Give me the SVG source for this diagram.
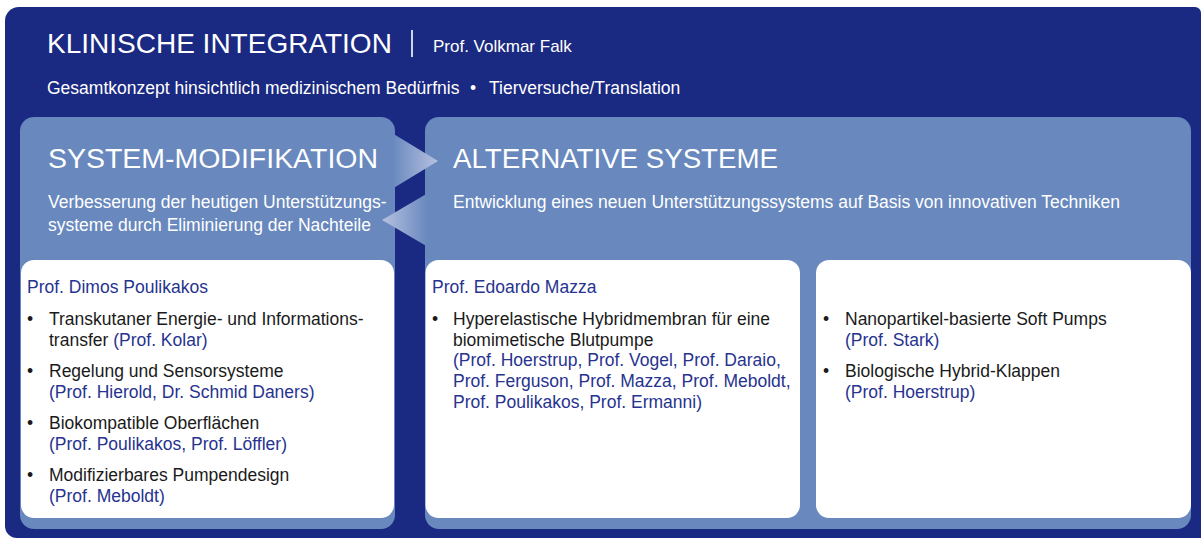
<svg xmlns="http://www.w3.org/2000/svg" width="1201" height="538" viewBox="0 0 1201 538">
  <defs>
    <style>
      text { font-family: "Liberation Sans", Arial, Helvetica, sans-serif; }
      .title { font-size: 28px; fill: #ffffff; }
      .lead { font-size: 17px; fill: #ffffff; }
      .head { font-size: 27px; fill: #ffffff; }
      .sub { font-size: 17.5px; fill: #ffffff; }
      .prof { font-size: 17.5px; fill: #27338f; }
      .item { font-size: 17.5px; fill: #1a1a1a; }
      .who { font-size: 17.5px; fill: #27338f; }
      .panel { fill: #6888be; }
      .card { fill: #ffffff; }
    </style>
    <linearGradient id="gradRight" x1="0" y1="0" x2="1" y2="0">
      <stop offset="0" stop-color="#6888be"/>
      <stop offset="1" stop-color="#b7c1e0"/>
    </linearGradient>
    <linearGradient id="gradLeft" x1="0" y1="0" x2="1" y2="0">
      <stop offset="0" stop-color="#b7c1e0"/>
      <stop offset="1" stop-color="#6888be"/>
    </linearGradient>
  </defs>

  <!-- outer frame -->
  <g id="frame">
    <path d="M19,7 H1195 A6,6 0 0 1 1201,13 V538 H17 A12,12 0 0 1 5,526 V21 A14,14 0 0 1 19,7 Z" fill="#1a2981"/>
    <text class="title" x="47" y="53">KLINISCHE INTEGRATION</text>
    <line x1="412" y1="30" x2="412" y2="57" stroke="#ffffff" stroke-width="1.6"/>
    <text class="lead" x="433" y="52">Prof. Volkmar Falk</text>
    <text class="sub" x="47" y="94">Gesamtkonzept hinsichtlich medizinischem Bedürfnis</text>
    <text class="sub" x="470" y="94">•</text>
    <text class="sub" x="489" y="94">Tierversuche/Translation</text>
  </g>

  <!-- system modification panel -->
  <g id="system-modifikation">
    <rect class="panel" x="20" y="117" width="375" height="412" rx="14"/>
    <text class="head" x="48" y="168" textLength="330" lengthAdjust="spacingAndGlyphs">SYSTEM-MODIFIKATION</text>
    <text class="sub" x="48" y="208">Verbesserung der heutigen Unterstützungs-</text>
    <text class="sub" x="48" y="231">systeme durch Eliminierung der Nachteile</text>
  </g>

  <!-- alternative systems panel -->
  <g id="alternative-systeme">
    <rect class="panel" x="425" y="117" width="766" height="412" rx="14"/>
    <text class="head" x="453" y="168" textLength="325" lengthAdjust="spacingAndGlyphs">ALTERNATIVE SYSTEME</text>
    <text class="sub" x="453" y="208">Entwicklung eines neuen Unterstützungssystems auf Basis von innovativen Techniken</text>
  </g>

  <!-- arrows between the two panels -->
  <g id="connectors">
    <polygon points="392,133 438,161 392,189" fill="url(#gradRight)"/>
    <polygon points="428,193 382,220 428,247" fill="url(#gradLeft)"/>
  </g>

  <!-- card: Poulikakos -->
  <g id="card-poulikakos">
    <rect class="card" x="21" y="260" width="373" height="258" rx="13"/>
    <text class="prof" x="27" y="293">Prof. Dimos Poulikakos</text>
    <text class="item" x="27" y="325">•</text>
    <text class="item" x="49" y="325">Transkutaner Energie- und Informations-</text>
    <text class="item" x="49" y="345.5">transfer <tspan class="who">(Prof. Kolar)</tspan></text>
    <text class="item" x="27" y="377">•</text>
    <text class="item" x="49" y="377">Regelung und Sensorsysteme</text>
    <text class="who" x="49" y="397.5">(Prof. Hierold, Dr. Schmid Daners)</text>
    <text class="item" x="27" y="429">•</text>
    <text class="item" x="49" y="429">Biokompatible Oberflächen</text>
    <text class="who" x="49" y="449.5">(Prof. Poulikakos, Prof. Löffler)</text>
    <text class="item" x="27" y="481">•</text>
    <text class="item" x="49" y="481">Modifizierbares Pumpendesign</text>
    <text class="who" x="49" y="501.5">(Prof. Meboldt)</text>
  </g>

  <!-- card: Mazza -->
  <g id="card-mazza">
    <rect class="card" x="425.5" y="260" width="374.5" height="258" rx="13"/>
    <text class="prof" x="432" y="293">Prof. Edoardo Mazza</text>
    <text class="item" x="432" y="325">•</text>
    <text class="item" x="453" y="325">Hyperelastische Hybridmembran für eine</text>
    <text class="item" x="453" y="345.5">biomimetische Blutpumpe</text>
    <text class="who" x="453" y="366">(Prof. Hoerstrup, Prof. Vogel, Prof. Daraio,</text>
    <text class="who" x="453" y="387">Prof. Ferguson, Prof. Mazza, Prof. Meboldt,</text>
    <text class="who" x="453" y="408">Prof. Poulikakos, Prof. Ermanni)</text>
  </g>

  <!-- card: soft pumps and valves -->
  <g id="card-techniken">
    <rect class="card" x="816" y="260" width="375" height="258" rx="13"/>
    <text class="item" x="823" y="325">•</text>
    <text class="item" x="845" y="325">Nanopartikel-basierte Soft Pumps</text>
    <text class="who" x="845" y="345.5">(Prof. Stark)</text>
    <text class="item" x="823" y="377">•</text>
    <text class="item" x="845" y="377">Biologische Hybrid-Klappen</text>
    <text class="who" x="845" y="397.5">(Prof. Hoerstrup)</text>
  </g>
</svg>
